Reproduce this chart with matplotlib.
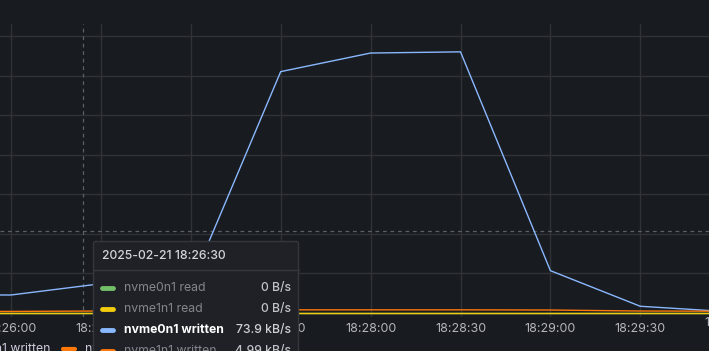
import matplotlib
matplotlib.use("Agg")
import matplotlib.pyplot as plt
from matplotlib.patches import FancyBboxPatch
from matplotlib.lines import Line2D

plt.rcParams['font.family'] = ['Inter', 'DejaVu Sans']

# ---- data (seconds relative to 18:26:00, values in kB/s) ----
times_s = [-30, 0, 30, 60, 90, 120, 150, 180, 210, 240]
nvme0n1_read = [0, 0, 0, 0, 0, 0, 0, 0, 0, 0]
nvme1n1_read = [0, 0, 0, 0, 0, 0, 0, 0, 0, 0]
nvme0n1_written = [45.5, 45.5, 73.9, 72, 610, 657, 660, 107, 17, 3]
nvme1n1_written = [4, 4, 4.99, 6, 8, 8, 8, 7.5, 5, 4.5]
tick_secs = [0, 30, 60, 90, 120, 150, 180, 210, 240]
tick_labels = ["18:26:00", "18:26:30", "18:27:00", "18:27:30", "18:28:00",
               "18:28:30", "18:29:00", "18:29:30", "18:30:00"]
series_names = ["nvme0n1 read", "nvme1n1 read", "nvme0n1 written", "nvme1n1 written"]
series_colors = ["#73bf69", "#f2cc0c", "#8ab8ff", "#ff780a"]
tooltip_time = "2025-02-21 18:26:30"
tooltip_values = ["0 B/s", "0 B/s", "73.9 kB/s", "4.99 kB/s"]
highlight = 2

W, H = 709, 351
BG = "#181b1f"
GRID = "#303236"
FS = 8.8

fig = plt.figure(figsize=(W / 100, H / 100), dpi=100, facecolor=BG)

# main axes in pixel geometry: left 0, right 709, top 24, bottom 317
top_px, bot_px = 24, 317
ax = fig.add_axes([0, (H - bot_px) / H, 1, (bot_px - top_px) / H])
ax.set_facecolor(BG)

px_per_s = 89.9 / 30
x0_px = 11.0
ax.set_xlim(-x0_px / px_per_s, (W - x0_px) / px_per_s)
zero_px = 313.0
px_per_100k = 39.5
ax.set_ylim(-(bot_px - zero_px) / px_per_100k * 100,
            700 + (36 - top_px) / px_per_100k * 100)

ax.set_yticks([0, 100, 200, 300, 400, 500, 600, 700])
ax.set_xticks(tick_secs[:-1])
ax.set_xticklabels(tick_labels[:-1])
ax.grid(True, color=GRID, linewidth=1)
ax.tick_params(axis='x', length=0, pad=4, labelsize=9, labelcolor="#b4b5bc")
ax.tick_params(axis='y', length=0, labelleft=False)
for s in ax.spines.values():
    s.set_visible(False)
ax.set_axisbelow(True)
# label beyond right edge (partially visible)
ax.text(tick_secs[-1], -0.0, tick_labels[-1], transform=ax.get_xaxis_transform(),
        ha='center', va='top', fontsize=9, color="#b4b5bc", clip_on=False)

# crosshair
ax.axvline(24, color="#5d5f66", linestyle=(0, (3, 3)), linewidth=0.9)
ax.axhline(207.6, color="#5d5f66", linestyle=(0, (3, 3)), linewidth=0.9)

for vals, c in zip([nvme0n1_read, nvme1n1_read, nvme0n1_written, nvme1n1_written],
                   series_colors):
    ax.plot(times_s, vals, color=c, linewidth=1.0, solid_joinstyle='miter')

# overlay in pixel coords
ov = fig.add_axes([0, 0, 1, 1], zorder=10)
ov.set_xlim(0, W)
ov.set_ylim(H, 0)
ov.axis('off')
ov.patch.set_alpha(0)

# bottom legend (partially cut)
ov.text(50, 349, "nvme0n1 written", ha='right', va='center', fontsize=FS,
        color="#ccccdc", zorder=2)
ov.add_line(Line2D([63, 75], [349, 349], color=series_colors[3], linewidth=3,
                   solid_capstyle='round', zorder=2))
ov.text(85, 349, "nvme1n1 written", ha='left', va='center', fontsize=FS,
        color="#ccccdc", zorder=2)

# tooltip
tx0, tx1, ty0 = 93.5, 298.5, 241.5
ov.add_patch(FancyBboxPatch((tx0, ty0), tx1 - tx0, 140,
                            boxstyle="round,pad=0,rounding_size=2",
                            facecolor="#1f2126", edgecolor="#34373c",
                            linewidth=1, zorder=5))
ov.text(102, 256, tooltip_time, ha='left', va='center', fontsize=FS,
        color="#d4d5da", fontweight='medium', zorder=6)
ov.add_line(Line2D([tx0, tx1], [270, 270], color="#34373c", linewidth=1, zorder=6))
row_y = [288, 309, 330, 351]
for i, (name, val, c, y) in enumerate(zip(series_names, tooltip_values,
                                          series_colors, row_y)):
    hl = i == highlight
    ov.add_line(Line2D([102, 113], [y, y], color=c, linewidth=3.5,
                       solid_capstyle='round', zorder=6))
    ov.text(124, y, name, ha='left', va='center', fontsize=FS,
            color="#ffffff" if hl else "#85868d",
            fontweight='bold' if hl else 'normal', zorder=6)
    ov.text(291, y, val, ha='right', va='center', fontsize=FS,
            color="#d0d1d6" if hl else "#c2c3c8", fontweight='medium', zorder=6)

fig.savefig("out.png", dpi=100, facecolor=BG)
